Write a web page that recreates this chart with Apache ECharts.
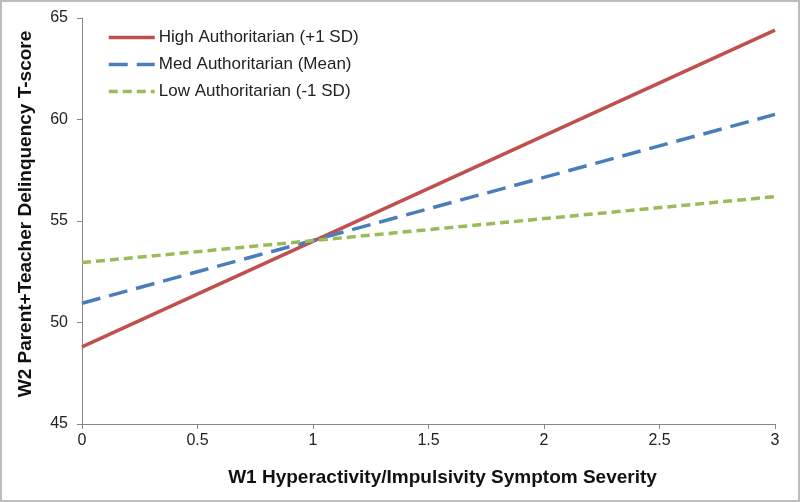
<!DOCTYPE html>
<html>
<head>
<meta charset="utf-8">
<script src="https://cdn.jsdelivr.net/npm/echarts@6/dist/echarts.min.js"></script>
<style>
html,body{margin:0;padding:0;background:#fff;}
#wrap{width:800px;height:502px;box-sizing:border-box;border:2px solid #bdbdbd;}
#chart{width:796px;height:498px;}
</style>
</head>
<body>
<div id="wrap"><div id="chart"></div></div>
<script>
const xValues = [0, 3];
const highAuth = [48.8, 64.4];
const medAuth = [50.95, 60.25];
const lowAuth = [52.95, 56.2];
const seriesNames = ['High Authoritarian (+1 SD)', 'Med Authoritarian (Mean)', 'Low Authoritarian (-1 SD)'];
const xAxisTitle = 'W1 Hyperactivity/Impulsivity Symptom Severity';
const yAxisTitle = 'W2 Parent+Teacher Delinquency T-score';

const pair = (ys) => xValues.map((x, i) => [x, ys[i]]);
const font = 'Liberation Sans, Arial, sans-serif';
const chart = echarts.init(document.getElementById('chart'));
const lineSeries = (name, ys, color, type) => ({
  name, type: 'line', data: pair(ys), symbol: 'none', smooth: false,
  lineStyle: { color, width: 3.5, type, cap: 'butt' },
  itemStyle: { color }, emphasis: { disabled: true }
});
chart.setOption({
  animation: false,
  textStyle: { fontFamily: font },
  grid: { left: 80, right: 23, top: 16, bottom: 76 },
  legend: {
    left: 100, top: 22, orient: 'vertical', itemGap: 10,
    itemWidth: 46, itemHeight: 17,
    itemStyle: { opacity: 0 },
    lineStyle: { width: 3.5 },
    textStyle: { fontFamily: font, fontSize: 17, color: '#222', padding: [0, 0, 0, -1] },
    data: seriesNames
  },
  xAxis: {
    type: 'value', min: 0, max: 3, interval: 0.5,
    name: xAxisTitle, nameLocation: 'middle', nameGap: 44,
    nameTextStyle: { fontFamily: font, fontSize: 19, fontWeight: 'bold', color: '#111', padding: [0, 0, 0, 28] },
    axisLine: { lineStyle: { color: '#888', width: 1 } },
    axisTick: { show: true, length: 5, inside: false, lineStyle: { color: '#888' } },
    axisLabel: { fontFamily: font, fontSize: 16, color: '#222', margin: 9 },
    splitLine: { show: false }
  },
  yAxis: {
    type: 'value', min: 45, max: 65, interval: 5,
    name: yAxisTitle, nameLocation: 'middle', nameGap: 47,
    nameTextStyle: { fontFamily: font, fontSize: 19, fontWeight: 'bold', color: '#111', padding: [0, 0, 0, 14] },
    axisLine: { show: true, lineStyle: { color: '#888', width: 1 } },
    axisTick: { show: true, length: 5, lineStyle: { color: '#888' } },
    axisLabel: { fontFamily: font, fontSize: 16, color: '#222', margin: 14 },
    splitLine: { show: false }
  },
  series: [
    lineSeries(seriesNames[0], highAuth, '#c0504d', 'solid'),
    lineSeries(seriesNames[1], medAuth, '#4a7ebb', [19, 9]),
    lineSeries(seriesNames[2], lowAuth, '#9bbb59', [9, 5])
  ]
});
</script>
</body>
</html>
